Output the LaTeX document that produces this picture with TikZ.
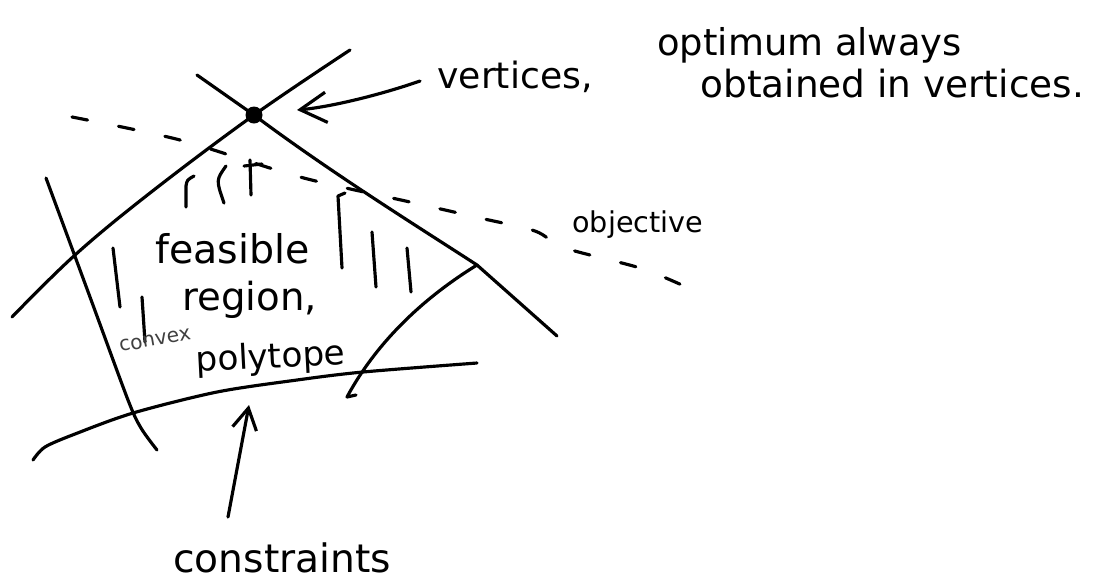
\documentclass[tikz,border=0pt]{standalone}
\usepackage{fontspec}
\setmainfont{DejaVu Sans}
\usetikzlibrary{arrows.meta}
\tikzset{
  pen/.style={line width=1.8pt, line cap=round, line join=round},
  hand/.style={inner sep=0pt, anchor=base west, font=\fontsize{#1}{#1}\selectfont},
  barb/.style={-{Straight Barb[length=#1, width=1.15*#1]}}
}

\begin{document}
\begin{tikzpicture}[x=0.02cm, y=-0.02cm]
\useasboundingbox (0,0) rectangle (1098,586);
% vertex and the point where the arc meets the right edge
\node[circle, fill, inner sep=0pt, minimum size=0.34cm] (vtx) at (254,115) {};
\coordinate (jct) at (477,265);
% constraint lines
\draw[pen] plot[smooth, tension=0.6] coordinates {(12,317) (75,255) (150,193) (254,115) (350,50)};
\draw[pen] (197,75) -- (254,115) .. controls (330,172) and (420,228) .. (jct) -- (557,336);
\draw[pen] plot[smooth] coordinates {(46,178) (90,297) (128,400) (141,428) (157,450)};
\draw[pen] plot[smooth] coordinates {(33,460) (45,447) (75,434) (133,413) (217,392) (297,380) (363,372) (477,363)};
\draw[pen] (jct) .. controls (420,300) and (375,345) .. (347,397) -- (356,395);
% objective, dashed
\draw[pen, dash pattern=on 9pt off 18pt] plot[smooth] coordinates {(72,117) (180,140) (300,177) (410,202) (480,218) (535,231) (565,248) (640,268) (684,286)};
% hatching of the feasible region
\foreach \p/\q in {{113,248}/{120,307}, {142,297}/{145,342}, {250,160}/{251,195},
  {244,166}/{262,164}, {372,232}/{376,287}, {407,248}/{411,292}}{
  \draw[pen] (\p) -- (\q);
}
\draw[pen] (345,193) -- (338,196) -- (342,268);
\draw[pen] (186,207) -- (186,186) .. controls (187,180) .. (194,176);
\draw[pen] (226,166) .. controls (216,180) .. (224,203);
% labels
\node[hand=20.6] (vertlbl) at (437,88) {vertices,};
\node[hand=21] (opt1) at (657,55) {optimum always};
\node[hand=21.3] (opt2) at (700,97) {obtained in vertices.};
\node[hand=16.3] (objlbl) at (572,232) {objective};
\node[hand=22.5] (feas) at (155,263) {feasible};
\node[hand=22] (regn) at (182,310) {region,};
\node[hand=11.5, text=black!75, rotate=10] (cvx) at (120,352) {convex};
\node[hand=19.5, rotate=3] (poly) at (196,372) {polytope};
\node[hand=22.3] (cons) at (173,572) {constraints};
% arrows
\coordinate (vtxtail) at (420,81);
\coordinate (vtxtip) at (297,110);
\draw[pen, barb=15pt] (vtxtail) .. controls (380,95) and (330,107) .. (vtxtip);
\coordinate (constail) at (228,517);
\coordinate (constip) at (249,405);
\draw[pen, barb=12pt] (constail) -- (constip);
\end{tikzpicture}
\end{document}
